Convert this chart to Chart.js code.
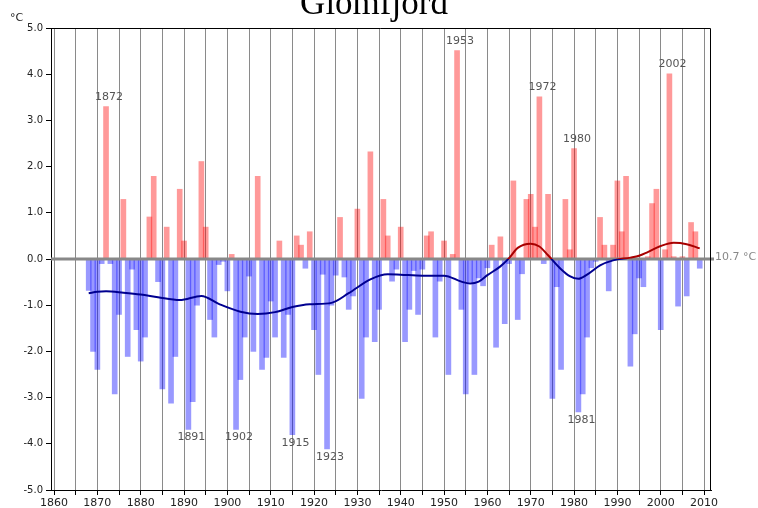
<!DOCTYPE html>
<html>
<head>
<meta charset="utf-8">
<title>Glomfjord</title>
<script src="https://cdn.jsdelivr.net/npm/chart.js@4.4.0/dist/chart.umd.min.js"></script>
<style>
    html, body { margin: 0; padding: 0; background: #fff; }
    #wrap { width: 758px; height: 508px; }
</style>
</head>
<body>
<div id="wrap"><canvas id="chart" width="758" height="508"></canvas></div>
<script>
// Avvik fra middeltemperaturen (10.7 °C), ett tall per år fra 1868
const firstYear = 1868;
const anomalies = [
    -0.68, -2.00, -2.39, -0.10,  3.30, -0.10, -2.92, -1.20,  1.29, -2.11,   // 1868-1877
    -0.22, -1.53, -2.21, -1.69,  0.91,  1.79, -0.49, -2.81,  0.69, -3.12,   // 1878-1887
    -2.11,  1.51,  0.39, -3.69, -3.09, -1.00,  2.11,  0.69, -1.31, -1.69,   // 1888-1897
    -0.12, -0.05, -0.69,  0.10, -3.69, -2.61, -1.69, -0.37, -2.00,  1.79,   // 1898-1907
    -2.39, -2.13, -0.91, -1.69,  0.39, -2.13, -1.20, -3.80,  0.50,  0.30,   // 1908-1917
    -0.20,  0.59, -1.53, -2.50, -0.33, -4.11, -1.00, -0.35,  0.90, -0.39,   // 1918-1927
    -1.09, -0.80,  1.08, -3.02, -1.69,  2.32, -1.79, -1.09,  1.29,  0.50,   // 1928-1937
    -0.48, -0.22,  0.69, -1.79, -1.09, -0.25, -1.20, -0.22,  0.50,  0.59,   // 1938-1947
    -1.69, -0.48,  0.39, -2.50,  0.10,  4.51, -1.09, -2.92, -0.50, -2.50,   // 1948-1957
    -0.41, -0.58, -0.19,  0.30, -1.91,  0.48, -1.40, -0.10,  1.69, -1.31,   // 1958-1967
    -0.32,  1.29,  1.40,  0.69,  3.51, -0.10,  1.40, -3.02, -0.60, -2.39,   // 1968-1977
     1.29,  0.20,  2.39, -3.31, -2.92, -1.69, -0.19, -0.05,  0.90,  0.30,   // 1978-1987
    -0.69,  0.30,  1.69,  0.59,  1.79, -2.32, -1.62, -0.41, -0.60,  0.05,   // 1988-1997
     1.20,  1.51, -1.53,  0.20,  4.01,  0.05, -1.02,  0.05, -0.80,  0.79,   // 1998-2007
     0.59, -0.20                                                            // 2008-2009
];
const years = anomalies.map((_, i) => firstYear + i);

// Glattet kurve
const trendYears  = [1868, 1870, 1872, 1876, 1880, 1884, 1889, 1894, 1898, 1903, 1907, 1911,
                     1915, 1919, 1924, 1928, 1933, 1937, 1940, 1945, 1950, 1954, 1956, 1958,
                     1960, 1963, 1965, 1967, 1970, 1972, 1974, 1977, 1979, 1981, 1983, 1986,
                     1989, 1993, 1995, 1997, 2000, 2003, 2006, 2009];
const trendValues = [-0.74, -0.71, -0.70, -0.73, -0.77, -0.83, -0.89, -0.80, -0.97, -1.14, -1.19, -1.15,
                     -1.04, -0.98, -0.95, -0.74, -0.44, -0.33, -0.34, -0.36, -0.36, -0.49, -0.53, -0.49,
                     -0.35, -0.16,  0.02,  0.24,  0.33,  0.27,  0.08, -0.22, -0.37, -0.43, -0.34, -0.14,
                     -0.03,  0.03,  0.07,  0.15,  0.28,  0.35,  0.32,  0.23];

const xTicks = [1860, 1865, 1870, 1875, 1880, 1885, 1890, 1895, 1900, 1905, 1910, 1915, 1920,
                1925, 1930, 1935, 1940, 1945, 1950, 1955, 1960, 1965, 1970, 1975, 1980, 1985,
                1990, 1995, 2000, 2005, 2010];
const warmYears = [1872, 1953, 1972, 1980, 2002];
const coldYears = [1891, 1902, 1915, 1923, 1981];
const meanLabel = '10.7 °C';
const unitLabel = '°C';
const titleText = 'Glomfjord';

const RED_BAR = 'rgba(255, 0, 0, 0.4)';
const BLUE_BAR = 'rgba(0, 0, 255, 0.4)';
const RED_LINE = '#a80000';
const BLUE_LINE = '#000090';
const smallFont = '11px "DejaVu Sans"';

const extras = {
    id: 'extras',
    afterDatasetDraw(chart, args) {
        // grå nullinje over søylene, under kurven
        if (args.index !== 0) return;
        const { ctx, chartArea, scales } = chart;
        const y0 = scales.y.getPixelForValue(0);
        ctx.save();
        ctx.strokeStyle = '#888';
        ctx.lineWidth = 3;
        ctx.beginPath();
        ctx.moveTo(chartArea.left, y0);
        ctx.lineTo(chartArea.right + 3, y0);
        ctx.stroke();
        ctx.restore();
    },
    afterDraw(chart) {
        const { ctx, chartArea, scales } = chart;
        const x = scales.x, y = scales.y;
        ctx.save();
        // ramme topp og høyre
        ctx.strokeStyle = '#000';
        ctx.lineWidth = 1;
        ctx.beginPath();
        ctx.moveTo(chartArea.left, chartArea.top + 0.5);
        ctx.lineTo(chartArea.right - 0.5, chartArea.top + 0.5);
        ctx.lineTo(chartArea.right - 0.5, chartArea.bottom);
        ctx.stroke();

        // tittel
        ctx.fillStyle = '#000';
        ctx.font = '35px "Liberation Serif"';
        ctx.textAlign = 'center';
        ctx.textBaseline = 'alphabetic';
        ctx.fillText(titleText, 374, 14);

        // enhet
        ctx.font = smallFont;
        ctx.fillStyle = '#222';
        ctx.textAlign = 'left';
        ctx.fillText(unitLabel, 10, 21);

        // middelverdi
        ctx.fillStyle = '#888';
        ctx.textBaseline = 'middle';
        ctx.fillText(meanLabel, chartArea.right + 4, y.getPixelForValue(0) - 2);

        // årstall ved ekstremverdier
        ctx.fillStyle = '#555';
        ctx.textAlign = 'center';
        ctx.textBaseline = 'alphabetic';
        warmYears.forEach(yr => {
            const v = anomalies[yr - firstYear];
            ctx.fillText(String(yr), x.getPixelForValue(yr) + 3, y.getPixelForValue(v) - 7);
        });
        coldYears.forEach(yr => {
            const v = anomalies[yr - firstYear];
            ctx.fillText(String(yr), x.getPixelForValue(yr) + 3, y.getPixelForValue(v) + 11);
        });
        ctx.restore();
    }
};

function trendColor(context) {
    const chart = context.chart;
    const { ctx, chartArea, scales } = chart;
    if (!chartArea) return BLUE_LINE;
    const y0 = scales.y.getPixelForValue(0);
    const t = Math.min(1, Math.max(0, (y0 - chartArea.top) / (chartArea.bottom - chartArea.top)));
    const g = ctx.createLinearGradient(0, chartArea.top, 0, chartArea.bottom);
    g.addColorStop(0, RED_LINE);
    g.addColorStop(t, RED_LINE);
    g.addColorStop(t, BLUE_LINE);
    g.addColorStop(1, BLUE_LINE);
    return g;
}

new Chart(document.getElementById('chart'), {
    type: 'bar',
    data: {
        datasets: [
            {
                type: 'bar',
                data: years.map((yr, i) => ({ x: yr, y: anomalies[i] })),
                backgroundColor: c => (c.raw && c.raw.y >= 0 ? RED_BAR : BLUE_BAR),
                borderWidth: 0,
                barThickness: 5,
                order: 2
            },
            {
                type: 'line',
                data: trendYears.map((yr, i) => ({ x: yr, y: trendValues[i] })),
                borderColor: trendColor,
                borderWidth: 2,
                pointRadius: 0,
                fill: false,
                cubicInterpolationMode: 'monotone',
                order: 1
            }
        ]
    },
    options: {
        responsive: false,
        animation: false,
        layout: { padding: { top: 28, right: 47, left: 0, bottom: 0 } },
        plugins: {
            legend: { display: false },
            tooltip: { enabled: false },
            title: { display: false }
        },
        scales: {
            x: {
                type: 'linear',
                offset: false,
                min: 1859.3,
                max: 2011.6,
                afterBuildTicks: s => { s.ticks = xTicks.map(v => ({ value: v })); },
                afterFit: s => { s.height = 18; },
                grid: { offset: false, color: '#8a8a8a', lineWidth: 1, tickColor: '#000', tickLength: 5 },
                border: { color: '#000' },
                ticks: {
                    autoSkip: false,
                    maxRotation: 0,
                    padding: 2,
                    color: '#222',
                    font: { family: 'DejaVu Sans', size: 11 },
                    callback: v => (v % 10 === 0 ? String(v) : '')
                }
            },
            y: {
                min: -5,
                max: 5,
                afterFit: s => { s.width = 51; },
                grid: { drawOnChartArea: false, color: '#000', tickLength: 5 },
                border: { color: '#000' },
                ticks: {
                    stepSize: 1,
                    padding: 3,
                    color: '#222',
                    font: { family: 'DejaVu Sans', size: 10 },
                    callback: v => v.toFixed(1)
                }
            }
        }
    },
    plugins: [extras]
});
</script>
</body>
</html>
